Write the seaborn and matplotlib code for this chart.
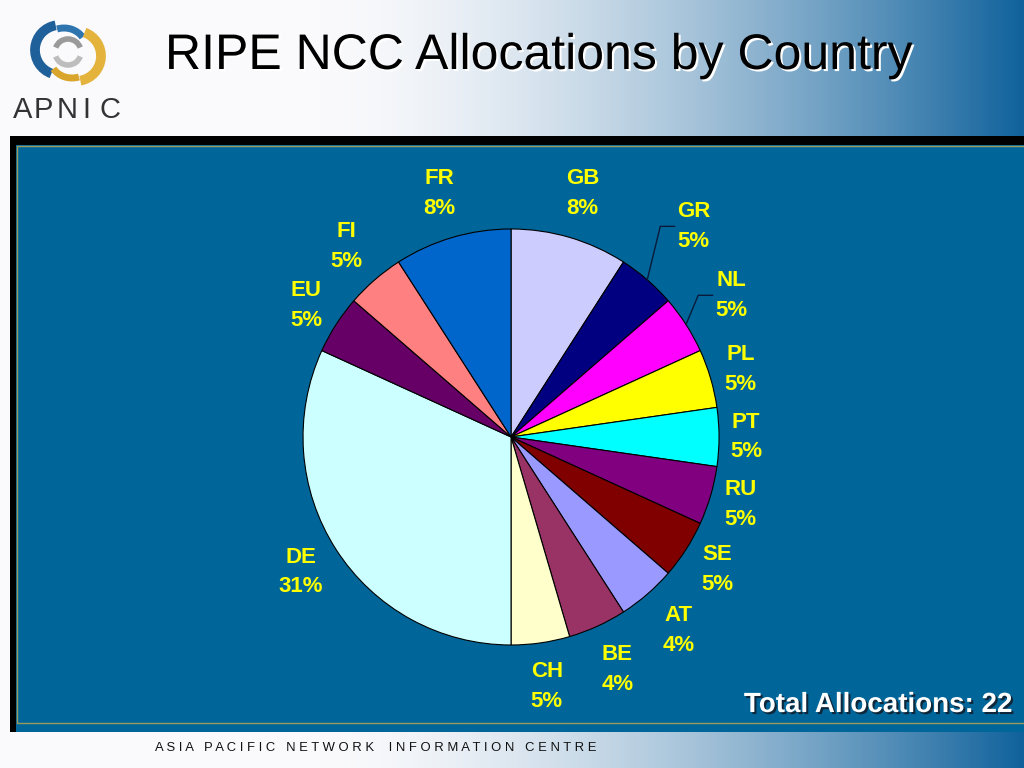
import numpy as np
import matplotlib
matplotlib.use("Agg")
import matplotlib.pyplot as plt
import matplotlib.patheffects as pe
from matplotlib.patches import Rectangle, Arc
import seaborn as sns

# data: 22 allocations in total
countries = ["GB", "GR", "NL", "PL", "PT", "RU", "SE", "AT", "BE", "CH", "DE", "EU", "FI", "FR"]
allocations = [2, 1, 1, 1, 1, 1, 1, 1, 1, 1, 7, 1, 1, 2]
pct_labels = ["8%", "5%", "5%", "5%", "5%", "5%", "5%", "4%", "4%", "5%", "31%", "5%", "5%", "8%"]
slice_colors = ["#CCCCFF", "#000080", "#FF00FF", "#FFFF00", "#00FFFF", "#800080", "#800000",
                "#9999FF", "#993366", "#FFFFCC", "#CCFFFF", "#660066", "#FF8080", "#0066CC"]
# how far out each label sits (in pie radii)
label_dist = [1.22, 1.34, 1.26, 1.15, 1.13, 1.15, 1.18, 1.23, 1.23, 1.21, 1.20, 1.17, 1.21, 1.22]
leader = ["GR", "NL"]

sns.set_theme(style="white")
plt.rcParams["font.family"] = ["Liberation Sans", "DejaVu Sans"]

fig = plt.figure(figsize=(10.24, 7.68), dpi=100)

# slide background in pixel coordinates
bg = fig.add_axes([0, 0, 1, 1])
bg.set_xlim(0, 1024)
bg.set_ylim(768, 0)
bg.axis("off")

x = np.linspace(0, 1024, 512)
t = np.clip((x - 320) / 704, 0, 1) ** 1.6
white = np.array([250, 250, 252]) / 255
blue = np.array([16, 98, 156]) / 255
grad = (1 - t)[:, None] * white + t[:, None] * blue
bg.imshow(grad[None, :, :], extent=[0, 1024, 768, 0], aspect="auto", zorder=0)

bg.add_patch(Rectangle((10, 136), 1014, 596, facecolor="black", edgecolor="none", zorder=1))
bg.add_patch(Rectangle((16, 145), 1008, 587, facecolor="#006699", edgecolor="none", zorder=2))
bg.add_patch(Rectangle((16.5, 145.5), 1010, 577.5, facecolor="none", edgecolor="#9a9a5c",
                       linewidth=1, zorder=3))

# APNIC logo (rough swirl + letters)
bg.add_patch(Arc((60, 50), 50, 50, theta1=110, theta2=260, color="#1f5f9a", linewidth=7, zorder=3))
bg.add_patch(Arc((64, 48), 44, 40, theta1=250, theta2=330, color="#2e75b0", linewidth=5, zorder=3))
bg.add_patch(Arc((76, 56), 50, 50, theta1=-70, theta2=80, color="#e3b33c", linewidth=7, zorder=3))
bg.add_patch(Arc((72, 58), 44, 40, theta1=70, theta2=150, color="#d9a52c", linewidth=5, zorder=3))
bg.add_patch(Arc((68, 52), 26, 26, theta1=200, theta2=340, color="#9a9a9a", linewidth=4, zorder=3))
bg.add_patch(Arc((68, 52), 26, 26, theta1=20, theta2=160, color="#bdbdbd", linewidth=4, zorder=3))
for ch, lx in zip("APNIC", [23, 43, 67, 86, 110]):
    bg.text(lx, 118, ch, ha="center", va="baseline", fontsize=21, color="#333333", zorder=4)

# title and footer texts
bg.text(539, 69, "RIPE NCC Allocations by Country", ha="center", va="baseline", fontsize=36,
        color="black", zorder=4,
        path_effects=[pe.withSimplePatchShadow(offset=(1.5, -1.5), shadow_rgbFace="white", alpha=1.0)])
bg.text(1012, 712, "Total Allocations: 22", ha="right", va="baseline", fontsize=20,
        fontweight="bold", color="white", zorder=4,
        path_effects=[pe.withSimplePatchShadow(offset=(1.5, -1.5), shadow_rgbFace="#102030", alpha=0.9)])
bg.text(155, 751, "A S I A   P A C I F I C   N E T W O R K    I N F O R M A T I O N   C E N T R E",
        ha="left", va="baseline", fontsize=9.4, color="#111111", zorder=4)

# pie
ax = fig.add_axes([0.1842, 0.0112, 0.6297, 0.8396])
wedges, _ = ax.pie(allocations, colors=slice_colors, startangle=90, counterclock=False,
                   wedgeprops=dict(edgecolor="black", linewidth=0.8))
ax.set_xlim(-1.55, 1.55)
ax.set_ylim(-1.55, 1.55)
ax.set_aspect("equal")
ax.axis("off")

for w, name, pct, d in zip(wedges, countries, pct_labels, label_dist):
    mid = np.deg2rad((w.theta1 + w.theta2) / 2)
    lx, ly = d * np.cos(mid), d * np.sin(mid)
    ax.text(lx, ly, f"{name}\n{pct}", ha="center", va="center", fontsize=16,
            fontweight="bold", color="#FFFF00", linespacing=1.55, clip_on=False)
    if name in leader:
        ax.plot([np.cos(mid), lx - 0.16, lx - 0.09], [np.sin(mid), ly, ly],
                color="#0a1a3a", linewidth=1, clip_on=False)

fig.savefig("out.png", dpi=100)
